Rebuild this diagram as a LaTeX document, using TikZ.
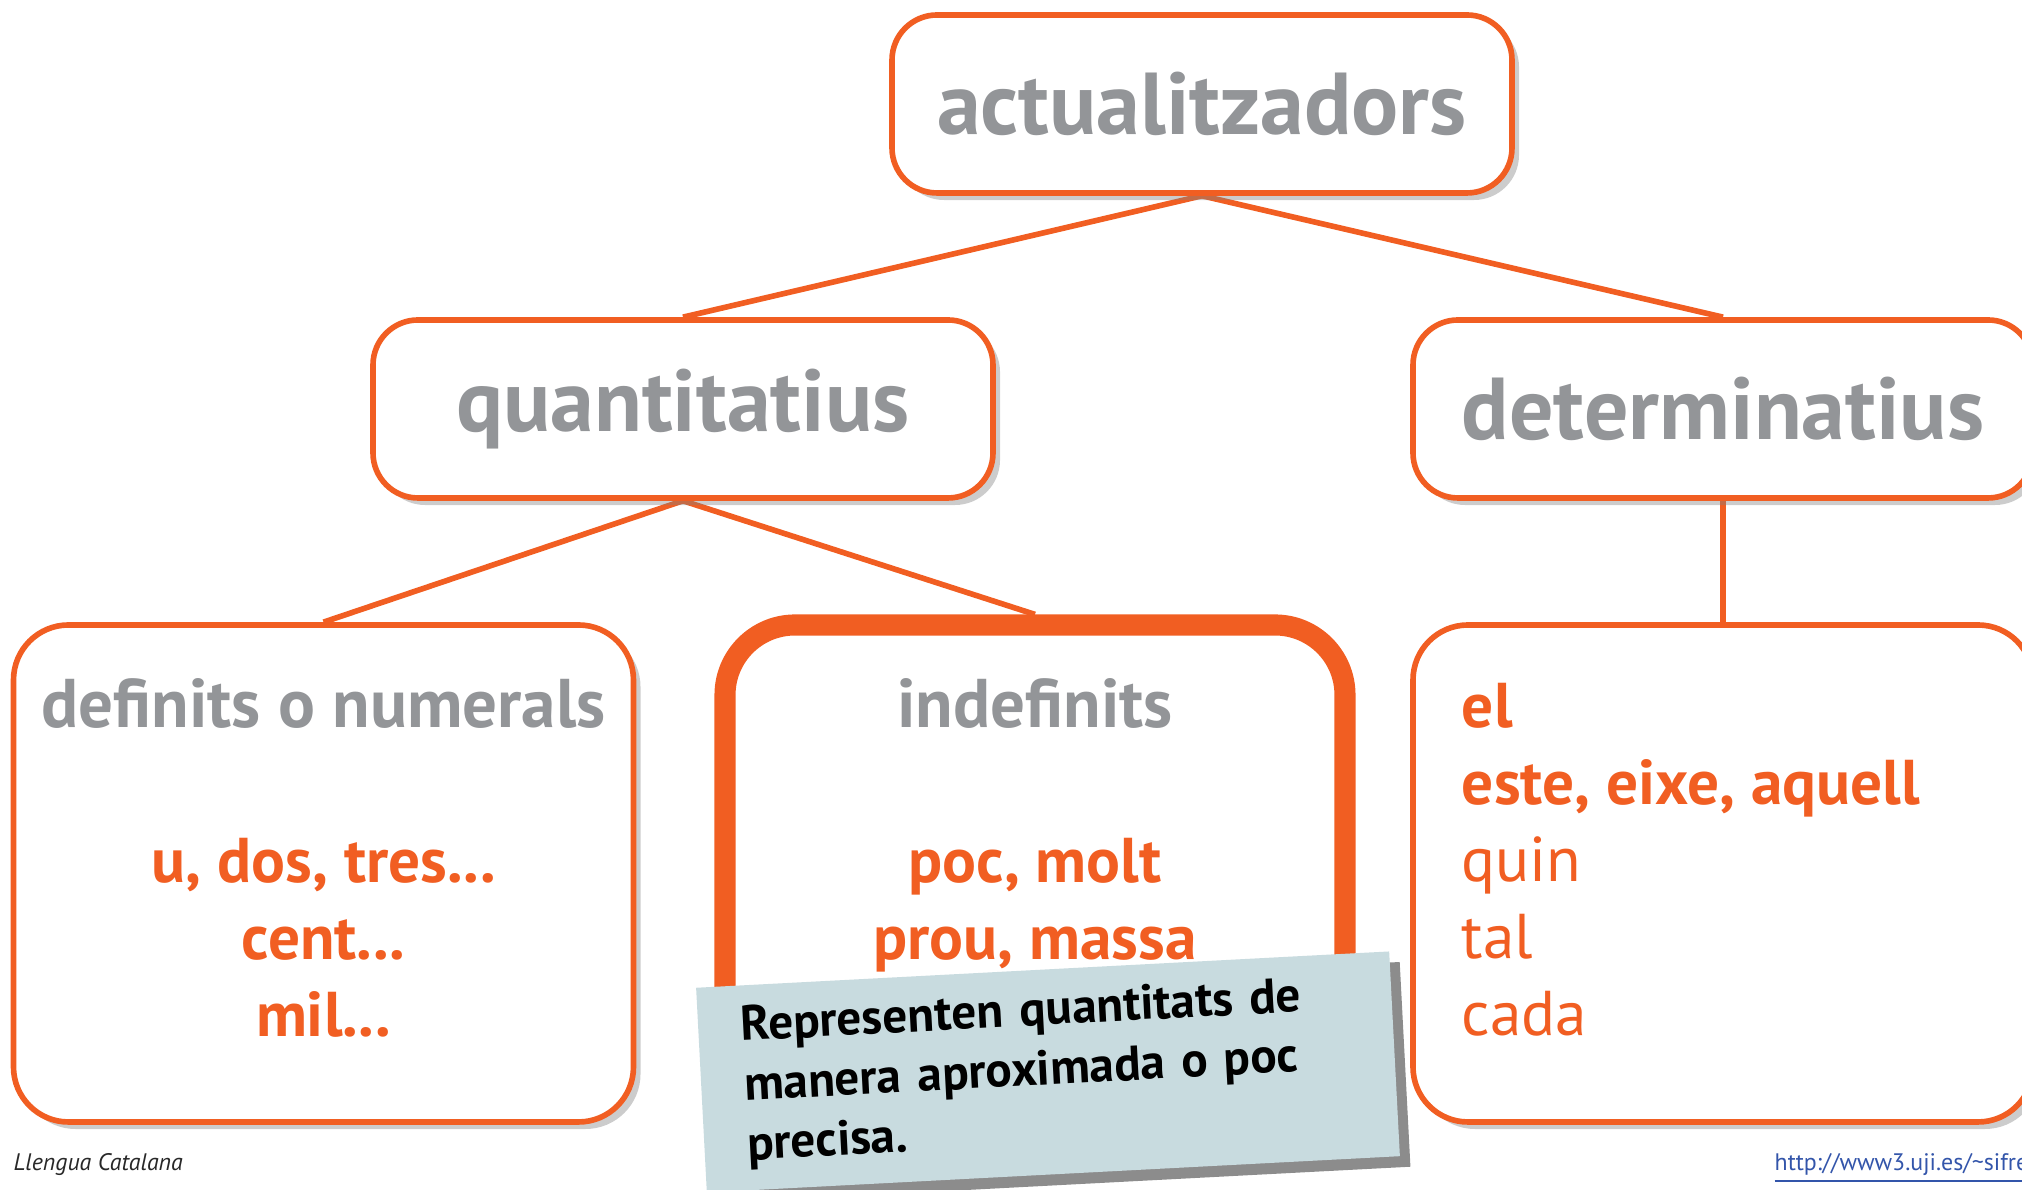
\documentclass[tikz,border=0pt]{standalone}
\usepackage{fontspec}
\setmainfont{PT Sans}
\usetikzlibrary{positioning, shadows, backgrounds}

\definecolor{tangerine}{RGB}{241,94,34}
\definecolor{slate}{RGB}{147,149,152}
\definecolor{notefill}{RGB}{200,219,223}
\definecolor{linkblue}{RGB}{51,85,170}
\definecolor{footgray}{RGB}{40,40,40}

\begin{document}
\begin{tikzpicture}[
    frame/.style={draw=tangerine, line width=1.6pt, fill=white, rounded corners=0.45cm,
        drop shadow={shadow xshift=2pt, shadow yshift=-2pt, opacity=0.4}},
    headbox/.style={frame, minimum width=6.2cm, minimum height=1.78cm, text=slate,
        font=\bfseries\fontsize{25}{29}\selectfont},
    listbox/.style={frame, minimum width=6.2cm, minimum height=4.97cm, rounded corners=0.55cm},
    head/.style={anchor=base, inner sep=0pt, text=slate, font=\bfseries\fontsize{19.6}{23}\selectfont},
    items/.style={anchor=base, inner sep=0pt, text=tangerine, font=\bfseries\fontsize{18}{22}\selectfont},
    plain/.style={anchor=base west, inner sep=0pt, text=tangerine, font=\fontsize{18}{22}\selectfont},
    link/.style={draw=tangerine, line width=1.6pt},
    note/.style={fill=notefill, minimum width=6.94cm, minimum height=2.05cm, text width=6.08cm,
        align=left, font=\bfseries\fontsize{14}{17}\selectfont,
        drop shadow={shadow xshift=3pt, shadow yshift=-3pt, fill=black!45, opacity=1}}
]
    \useasboundingbox (0,0) rectangle (20.22,11.90);

    % Top level
    \node[headbox] (top) at (12.02,10.86) {actualitzadors};

    % Second level
    \node[headbox] (quant) at (6.83,7.81) {quantitatius};
    \node[headbox] (det) at (17.23,7.81) {determinatius};

    % Third level boxes
    \node[listbox] (defbox) at (3.235,3.165) {};
    \node[listbox, line width=6pt, rounded corners=0.7cm] (indef) at (10.35,3.165) {};
    \node[listbox] (elbox) at (17.23,3.165) {};

    % definits o numerals
    \node[head] (defhead) at ([yshift=-1.05cm]defbox.north) {definits o numerals};
    \node[items] (ud) at ([yshift=-2.6cm]defbox.north) {u, dos, tres...};
    \node[items] (cent) at ([yshift=-0.77cm]ud.base) {cent...};
    \node[items] (mil) at ([yshift=-0.77cm]cent.base) {mil...};

    % indefinits
    \node[head] (indefhead) at ([yshift=-1.13cm]indef.north) {indefinits};
    \node[items] (poc) at ([yshift=-2.68cm]indef.north) {poc, molt};
    \node[items] (prou) at ([yshift=-0.77cm]poc.base) {prou, massa};

    % determinatius list
    \node[items, anchor=base west] (el) at ([xshift=0.51cm, yshift=-1.05cm]elbox.north west) {el};
    \node[items, anchor=base west] (este) at ([yshift=-0.77cm]el.base west) {este, eixe, aquell};
    \node[plain] (quin) at ([yshift=-0.77cm]este.base west) {quin};
    \node[plain] (tal) at ([yshift=-0.77cm]quin.base west) {tal};
    \node[plain] (cada) at ([yshift=-0.77cm]tal.base west) {cada};

    % Connectors
    \begin{scope}[on background layer]
        \draw[link] (top.south) -- (quant.north);
        \draw[link] (top.south) -- (det.north);
        \draw[link] (quant.south) -- (defbox.north);
        \draw[link] (quant.south) -- (indef.north);
        \draw[link] (det.south) -- (elbox.north);
    \end{scope}

    % Note
    \node[note, rotate=3] (nota) at (10.48,1.18) {Representen quantitats de\\manera aproximada o poc\\precisa.};

    % Footer
    \node[anchor=base west, inner sep=0pt, text=footgray, font=\itshape\fontsize{6.8}{8}\selectfont] (subject) at (0.13,0.19) {Llengua Catalana};
    \node[anchor=base west, inner sep=0pt, text=linkblue, font=\fontsize{6.8}{8}\selectfont] (url) at (17.74,0.19) {\underline{http://www3.uji.es/\textasciitilde sifre}};
\end{tikzpicture}
\end{document}
